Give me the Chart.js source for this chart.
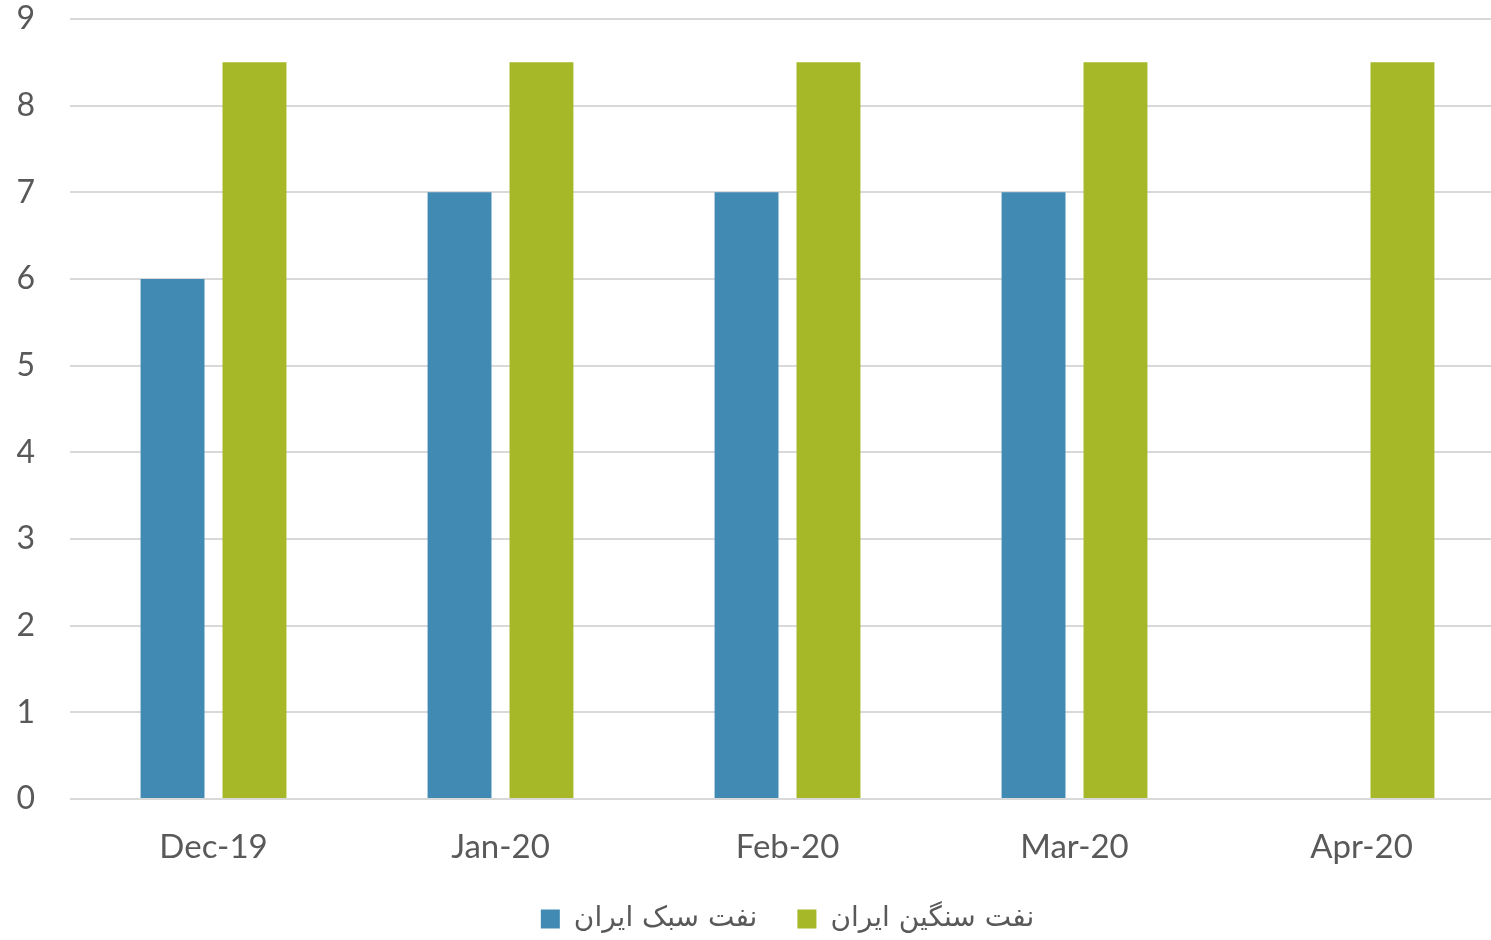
<!DOCTYPE html>
<html>
<head>
<meta charset="utf-8">
<script src="https://cdn.jsdelivr.net/npm/chart.js@4"></script>
<style>
  html, body { margin: 0; padding: 0; background: #fff; overflow: hidden; }
  /* plot area runs a little past the right edge in the original, so the canvas is wider than the window */
  #wrap { width: 1505px; height: 940px; position: relative; }
</style>
</head>
<body>
<div id="wrap"><canvas id="chart"></canvas></div>
<script>
// Data
const months = ["Dec-19", "Jan-20", "Feb-20", "Mar-20", "Apr-20"];
const lightOil = [6, 7, 7, 7, null];      // نفت سبک ایران
const heavyOil = [8.5, 8.5, 8.5, 8.5, 8.5]; // نفت سنگین ایران
const yTicks = [0, 1, 2, 3, 4, 5, 6, 7, 8, 9];

const labelFont = "Lato, 'Open Sans', 'DejaVu Sans', sans-serif";
const grey = "#595959";

const ctx = document.getElementById("chart").getContext("2d");
new Chart(ctx, {
    type: "bar",
    data: {
        labels: months,
        datasets: [
            { label: "نفت سبک ایران", data: lightOil, backgroundColor: "#418AB3" },
            { label: "نفت سنگین ایران", data: heavyOil, backgroundColor: "#A6B727" }
        ]
    },
    options: {
        responsive: true,
        maintainAspectRatio: false,
        animation: false,
        datasets: { bar: { categoryPercentage: 0.571, barPercentage: 0.78 } },
        layout: { padding: 0 },
        plugins: {
            tooltip: { enabled: false },
            legend: {
                position: "bottom",
                fullSize: false,
                maxHeight: 75,
                labels: {
                    boxWidth: 19,
                    boxHeight: 19,
                    padding: 40,
                    color: grey,
                    font: { family: "'DejaVu Sans', sans-serif", size: 28 }
                }
            }
        },
        scales: {
            x: {
                grid: { display: false },
                border: { display: false },
                ticks: { color: grey, padding: 21, font: { family: labelFont, size: 33 } },
                afterFit: s => { s.height = 66; }
            },
            y: {
                min: 0,
                max: 9,
                afterBuildTicks: s => { s.ticks = yTicks.map(v => ({ value: v })); },
                grid: { color: "#d9d9d9", lineWidth: 2, drawTicks: false },
                border: { display: false },
                ticks: { color: grey, padding: 35, font: { family: labelFont, size: 32 } },
                afterFit: s => { s.width = 70; s.paddingTop = 19; s.paddingBottom = 0; }
            }
        }
    }
});
</script>
</body>
</html>
